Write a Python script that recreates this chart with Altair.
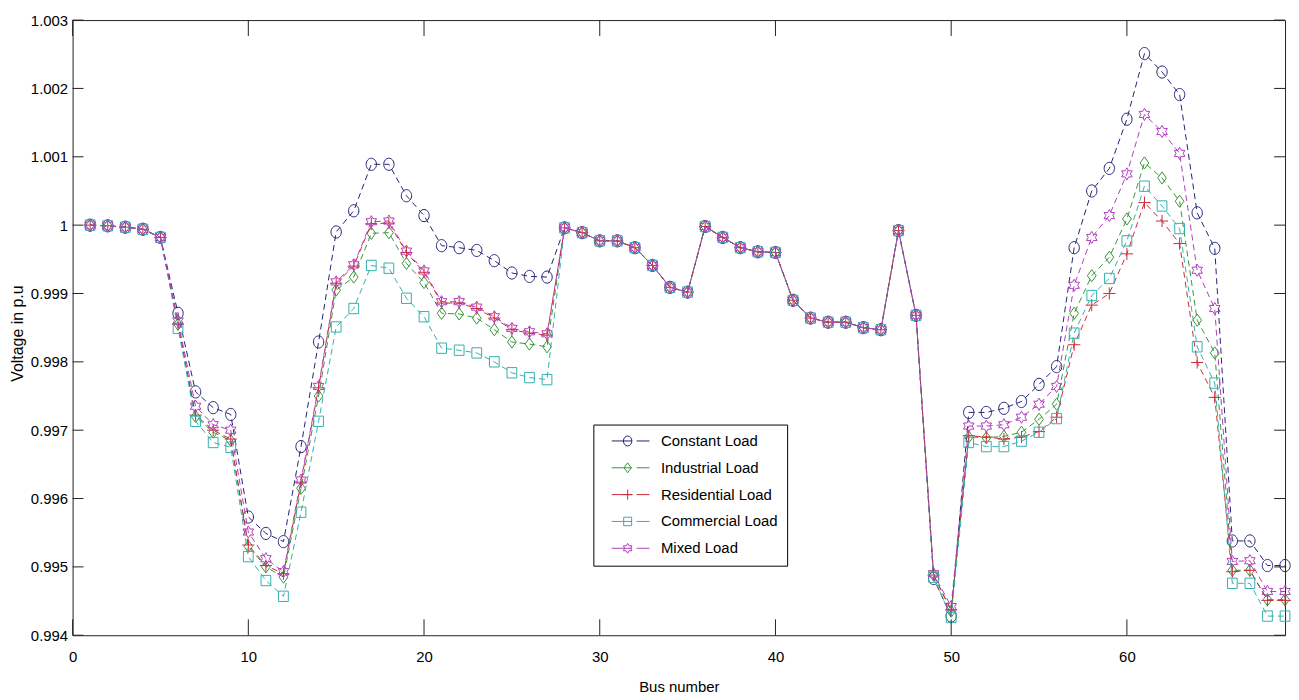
import altair as alt
import pandas as pd

# ---------------- data ----------------
buses = list(range(1, 70))

constant = [1.00000, 0.99999, 0.99997, 0.99994, 0.99982,
            0.99871, 0.99756, 0.99733, 0.99723, 0.99573, 0.99549, 0.99537, 0.99676, 0.99829, 0.99990,
            1.00021, 1.00089, 1.00089, 1.00043, 1.00014, 0.99970, 0.99967, 0.99963, 0.99948, 0.99930,
            0.99925, 0.99924,
            0.99996, 0.99989, 0.99977, 0.99977, 0.99967, 0.99941, 0.99909, 0.99902, 0.99998, 0.99982,
            0.99967, 0.99961, 0.99960, 0.99890, 0.99864, 0.99858, 0.99858, 0.99850, 0.99847, 0.99992,
            0.99868,
            0.99483, 0.99428, 0.99726, 0.99726, 0.99732, 0.99742, 0.99767, 0.99793, 0.99967, 1.00050,
            1.00083, 1.00155, 1.00251, 1.00224, 1.00191, 1.00018, 0.99966, 0.99538, 0.99538, 0.99502,
            0.99502]

industrial = [1.00000, 0.99999, 0.99997, 0.99994, 0.99982,
              0.99855, 0.99720, 0.99697, 0.99685, 0.99530, 0.99500, 0.99485, 0.99615, 0.99750, 0.99905,
              0.99924, 0.99988, 0.99989, 0.99944, 0.99916, 0.99871, 0.99870, 0.99864, 0.99847, 0.99829,
              0.99826, 0.99822,
              0.99996, 0.99989, 0.99977, 0.99977, 0.99967, 0.99941, 0.99909, 0.99902, 0.99998, 0.99982,
              0.99967, 0.99961, 0.99960, 0.99890, 0.99864, 0.99858, 0.99858, 0.99850, 0.99847, 0.99992,
              0.99868,
              0.99488, 0.99435, 0.99690, 0.99689, 0.99691, 0.99697, 0.99716, 0.99738, 0.99871, 0.99926,
              0.99953, 1.00009, 1.00091, 1.00069, 1.00035, 0.99861, 0.99813, 0.99495, 0.99495, 0.99452,
              0.99452]

residential = [1.00000, 0.99999, 0.99997, 0.99994, 0.99982,
               0.99855, 0.99722, 0.99700, 0.99687, 0.99532, 0.99502, 0.99490, 0.99624, 0.99762, 0.99915,
               0.99940, 1.00002, 1.00003, 0.99960, 0.99931, 0.99886, 0.99886, 0.99878, 0.99864, 0.99847,
               0.99842, 0.99839,
               0.99996, 0.99989, 0.99977, 0.99977, 0.99967, 0.99941, 0.99909, 0.99902, 0.99998, 0.99982,
               0.99967, 0.99961, 0.99960, 0.99890, 0.99864, 0.99858, 0.99858, 0.99850, 0.99847, 0.99992,
               0.99868,
               0.99488, 0.99437, 0.99692, 0.99690, 0.99687, 0.99690, 0.99698, 0.99719, 0.99825, 0.99883,
               0.99900, 0.99958, 1.00033, 1.00006, 0.99973, 0.99799, 0.99748, 0.99493, 0.99495, 0.99451,
               0.99451]

commercial = [1.00000, 0.99999, 0.99997, 0.99994, 0.99982,
              0.99849, 0.99713, 0.99682, 0.99675, 0.99515, 0.99480, 0.99457, 0.99580, 0.99713, 0.99851,
              0.99878, 0.99941, 0.99937, 0.99893, 0.99866, 0.99820, 0.99817, 0.99813, 0.99800, 0.99784,
              0.99777, 0.99774,
              0.99996, 0.99989, 0.99977, 0.99977, 0.99967, 0.99941, 0.99909, 0.99902, 0.99998, 0.99982,
              0.99967, 0.99961, 0.99960, 0.99890, 0.99864, 0.99858, 0.99858, 0.99850, 0.99847, 0.99992,
              0.99868,
              0.99485, 0.99426, 0.99682, 0.99676, 0.99676, 0.99684, 0.99697, 0.99717, 0.99842, 0.99897,
              0.99922, 0.99977, 1.00057, 1.00028, 0.99995, 0.99822, 0.99769, 0.99476, 0.99476, 0.99428,
              0.99428]

mixed = [1.00000, 0.99999, 0.99997, 0.99994, 0.99982,
         0.99860, 0.99735, 0.99708, 0.99700, 0.99551, 0.99512, 0.99493, 0.99627, 0.99764, 0.99917,
         0.99942, 1.00005, 1.00006, 0.99962, 0.99933, 0.99888, 0.99888, 0.99880, 0.99866, 0.99849,
         0.99844, 0.99841,
         0.99996, 0.99989, 0.99977, 0.99977, 0.99967, 0.99941, 0.99909, 0.99902, 0.99998, 0.99982,
         0.99967, 0.99961, 0.99960, 0.99890, 0.99864, 0.99858, 0.99858, 0.99850, 0.99847, 0.99992,
         0.99868,
         0.99490, 0.99442, 0.99706, 0.99706, 0.99708, 0.99719, 0.99738, 0.99764, 0.99912, 0.99982,
         1.00014, 1.00075, 1.00162, 1.00137, 1.00105, 0.99934, 0.99878, 0.99508, 0.99509, 0.99464,
         0.99464]

series_names = ["Constant Load", "Industrial Load", "Residential Load", "Commercial Load", "Mixed Load"]
series_values = [constant, industrial, residential, commercial, mixed]
series_colors = ["#222277", "#3a953a", "#cc2a36", "#33b0ad", "#b03cbc"]

x_ticks = [0, 10, 20, 30, 40, 50, 60]
y_ticks = [0.994, 0.995, 0.996, 0.997, 0.998, 0.999, 1.000, 1.001, 1.002, 1.003]

for v in series_values:
    assert len(v) == len(buses)

# marker glyphs (unit-size SVG paths)
CIRCLE = "M-0.85,0A0.85,1 0 1,1 0.85,0A0.85,1 0 1,1 -0.85,0Z"
DIAMOND = "M0,-1L0.72,0L0,1L-0.72,0Z"
PLUS = "M-1,0H1M0,-1V1"
SQUARE = "M-0.8,-0.85H0.8V0.85H-0.8Z"
HEXA = ("M0,-1L0.289,-0.5L0.866,-0.5L0.577,0L0.866,0.5L0.289,0.5L0,1L-0.289,0.5"
        "L-0.866,0.5L-0.577,0L-0.866,-0.5L-0.289,-0.5Z")
markers = [CIRCLE, DIAMOND, PLUS, SQUARE, HEXA]
LEAD = "M-3.2,0H0.9M1.8,0H4.4"
legend_paths = [m + LEAD for m in markers]

rows = []
for name, vals in zip(series_names, series_values):
    for b, v in zip(buses, vals):
        rows.append({"bus": b, "value": v, "series": name})
df = pd.DataFrame(rows)

W, H = 1220, 619
FONT = "Liberation Sans, Arial, Helvetica, sans-serif"

x_enc = alt.X("bus:Q",
              scale=alt.Scale(domain=[0, 69], nice=False, zero=False),
              axis=alt.Axis(values=x_ticks, title="Bus number", grid=False, ticks=False, tickSize=0,
                            domain=False, labelFont=FONT, labelFontSize=15, labelColor="#000",
                            labelPadding=14, titleFont=FONT, titleFontSize=15, titleColor="#000",
                            titleFontWeight="normal", titlePadding=16, labelFlush=False))
y_enc = alt.Y("value:Q",
              scale=alt.Scale(domain=[0.994, 1.003], nice=False, zero=False),
              axis=alt.Axis(values=y_ticks, format="~g", title="Voltage in p.u", grid=False,
                            ticks=False, tickSize=0, domain=False, labelFont=FONT, labelFontSize=15,
                            labelColor="#000", labelPadding=5, titleFont=FONT, titleFontSize=16,
                            titleColor="#000", titleFontWeight="normal", titleAngle=270,
                            titleX=-55, titleY=315, titleAlign="center", titleBaseline="middle",
                            labelFlush=False))

layers = []
for name, color, mk in zip(series_names, series_colors, markers):
    base = alt.Chart(df).transform_filter(alt.datum.series == name)
    line = base.mark_line(strokeWidth=1, strokeDash=[6, 4], color=color, opacity=1).encode(
        x=x_enc, y=y_enc, order="bus:Q")
    pts = base.mark_point(shape=mk, size=150, filled=False, strokeWidth=1, color=color,
                          opacity=1).encode(x=x_enc, y=y_enc)
    layers += [line, pts]

leg = alt.Legend(title=None, orient="none", legendX=524, legendY=407, strokeColor="#000",
                 fillColor="#fff", padding=9, symbolOffset=18, labelOffset=26, rowPadding=11,
                 labelFont=FONT, labelFontSize=15, labelColor="#000", symbolStrokeWidth=1,
                 symbolSize=100, symbolFillColor="transparent")

legend_layer = alt.Chart(df).transform_filter("false").mark_point(
    filled=False, size=100, strokeWidth=1, opacity=1).encode(
    x=x_enc, y=y_enc,
    color=alt.Color("series:N", scale=alt.Scale(domain=series_names, range=series_colors), legend=leg),
    shape=alt.Shape("series:N", scale=alt.Scale(domain=series_names, range=legend_paths), legend=leg),
)
layers.append(legend_layer)

# inward MATLAB-style ticks on all four sides
xt = pd.DataFrame({"bus": x_ticks})
yt = pd.DataFrame({"value": y_ticks})
tick_style = dict(color="#222", strokeWidth=1)
layers += [
    alt.Chart(xt).mark_rule(**tick_style).encode(x=x_enc, y=alt.value(H), y2=alt.value(H - 16)),
    alt.Chart(xt).mark_rule(**tick_style).encode(x=x_enc, y=alt.value(0), y2=alt.value(16)),
    alt.Chart(yt).mark_rule(**tick_style).encode(y=y_enc, x=alt.value(0), x2=alt.value(11)),
    alt.Chart(yt).mark_rule(**tick_style).encode(y=y_enc, x=alt.value(W - 11), x2=alt.value(W)),
]

chart = alt.layer(*layers).properties(
    width=W, height=H,
    autosize=alt.AutoSizeParams(type="none"),
    padding={"left": 65, "top": 10, "right": 6, "bottom": 62},
    background="#ffffff",
).configure_view(stroke="#222", strokeWidth=1)

chart.save("out.html", embed_options={"renderer": "svg", "actions": False})
